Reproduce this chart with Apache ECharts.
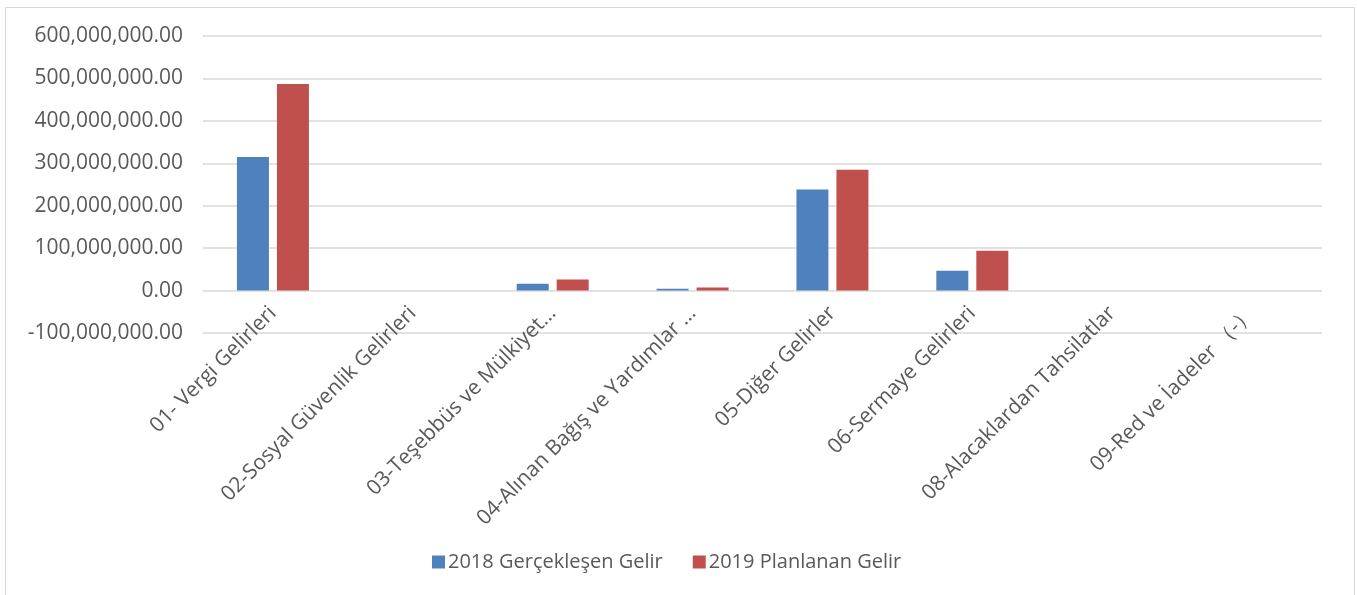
<!DOCTYPE html>
<html>
<head>
<meta charset="utf-8">
<script src="https://cdn.jsdelivr.net/npm/echarts@6/dist/echarts.min.js"></script>
<style>
  html, body { margin: 0; padding: 0; background: #fff; }
  #frame { position: absolute; left: 5px; top: 7px; width: 1350px; height: 600px; border: 1px solid #d9d9d9; box-sizing: border-box; }
  #chart { position: absolute; left: 0; top: 0; width: 1357px; height: 595px; }
</style>
</head>
<body>
<div id="frame"></div>
<div id="chart"></div>
<script>
// gelir kalemleri
const categories = [
  '01- Vergi Gelirleri',
  '02-Sosyal Güvenlik Gelirleri',
  '03-Teşebbüs ve Mülkiyet…',
  '04-Alınan Bağış ve Yardımlar …',
  '05-Diğer Gelirler',
  '06-Sermaye Gelirleri',
  '08-Alacaklardan Tahsilatlar',
  '09-Red ve İadeler （-）'
];
const gelir2018 = [315000000, 0, 16000000, 4500000, 238000000, 47000000, 0, 0];
const gelir2019 = [487000000, 0, 26000000, 7000000, 285000000, 94000000, 0, 0];
const seriesNames = ['2018 Gerçekleşen Gelir', '2019 Planlanan Gelir'];

const fmt = v => v.toLocaleString('en-US', { minimumFractionDigits: 2, maximumFractionDigits: 2 });

const myChart = echarts.init(document.getElementById('chart'));
const font = 'Open Sans, sans-serif';

const option = {
  animation: false,
  color: ['#4f81bd', '#c0504d'],
  textStyle: { fontFamily: font },
  grid: { left: 203, right: 35, top: 36, height: 297 },
  legend: {
    top: 547,
    left: 427,
    itemWidth: 13,
    itemHeight: 13,
    itemGap: 30,
    icon: 'rect',
    textStyle: { fontSize: 20, color: '#595959', fontFamily: font, padding: [0, 0, 0, -2] },
    data: seriesNames
  },
  xAxis: {
    type: 'category',
    data: categories,
    offset: -42, // etiketler 0 çizgisinin altında
    axisLine: { show: false, onZero: false },
    axisTick: { show: false },
    axisLabel: {
      rotate: 45,
      interval: 0,
      fontSize: 21,
      color: '#595959',
      margin: 19
    }
  },
  yAxis: {
    type: 'value',
    min: -100000000,
    max: 600000000,
    interval: 100000000,
    axisLine: { show: false },
    axisTick: { show: false },
    splitLine: { lineStyle: { color: '#d9d9d9', width: 1.5 } },
    axisLabel: {
      fontSize: 21,
      color: '#595959',
      margin: 20,
      formatter: fmt
    }
  },
  series: [
    { name: seriesNames[0], type: 'bar', data: gelir2018, barWidth: 32, barGap: '25%' },
    { name: seriesNames[1], type: 'bar', data: gelir2019, barWidth: 32, barGap: '25%' }
  ]
};

myChart.setOption(option);
</script>
</body>
</html>
